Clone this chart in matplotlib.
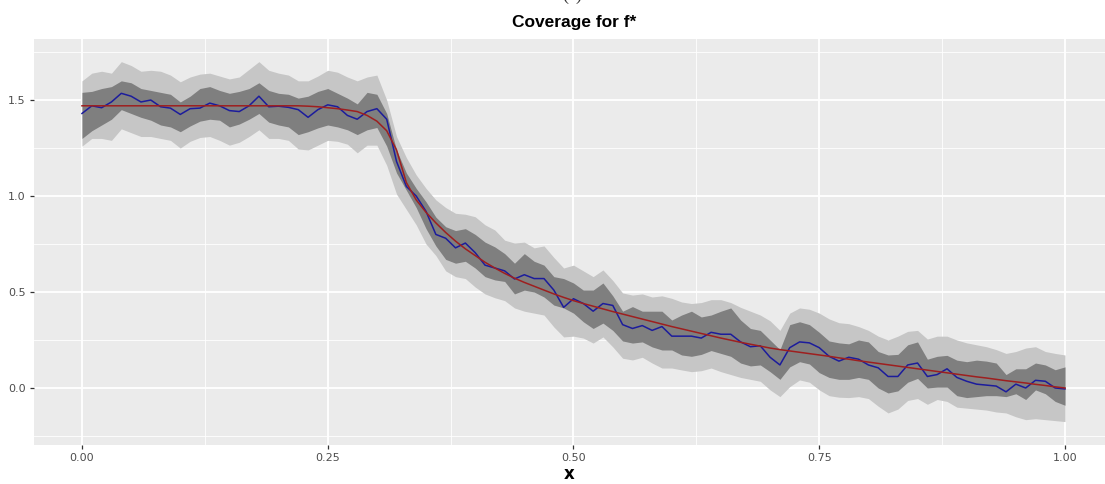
"""
Coverage plot for f*: posterior mean, true function and two credible bands.
"""

import numpy as np
import matplotlib.pyplot as plt

# grid of x values (0.00, 0.01, ..., 1.00)
x_grid = np.linspace(0, 1, 101)

# true function f*
f_true = [
    1.47, 1.47, 1.47, 1.47, 1.47, 1.47, 1.47, 1.47, 1.47, 1.47,
    1.47, 1.47, 1.47, 1.47, 1.47, 1.47, 1.47, 1.47, 1.47, 1.47,
    1.47, 1.47, 1.47, 1.468, 1.465, 1.46, 1.455, 1.448, 1.44, 1.42,
    1.39, 1.34, 1.24, 1.07, 0.98, 0.915, 0.86, 0.81, 0.765, 0.725,
    0.69, 0.655, 0.625, 0.597, 0.572, 0.55, 0.53, 0.51, 0.49, 0.472,
    0.455, 0.44, 0.426, 0.412, 0.398, 0.385, 0.372, 0.359, 0.346, 0.333,
    0.32, 0.308, 0.296, 0.284, 0.272, 0.26, 0.249, 0.238, 0.228, 0.218,
    0.208, 0.2, 0.193, 0.186, 0.179, 0.172, 0.165, 0.157, 0.15, 0.142,
    0.135, 0.128, 0.121, 0.114, 0.107, 0.1, 0.093, 0.086, 0.079, 0.072,
    0.065, 0.058, 0.052, 0.045, 0.038, 0.032, 0.026, 0.019, 0.013, 0.006,
    0.0,
]

# posterior mean
post_mean = [
    1.43, 1.47, 1.46, 1.49, 1.535, 1.52, 1.49, 1.50, 1.465, 1.458,
    1.425, 1.455, 1.458, 1.484, 1.47, 1.445, 1.44, 1.47, 1.52, 1.465,
    1.468, 1.462, 1.45, 1.41, 1.45, 1.475, 1.465, 1.42, 1.40, 1.44,
    1.455, 1.40, 1.18, 1.05, 1.00, 0.92, 0.80, 0.78, 0.73, 0.755,
    0.705, 0.64, 0.625, 0.61, 0.568, 0.59, 0.57, 0.57, 0.51, 0.42,
    0.465, 0.44, 0.40, 0.44, 0.43, 0.33, 0.31, 0.325, 0.30, 0.32,
    0.27, 0.27, 0.27, 0.26, 0.29, 0.28, 0.28, 0.24, 0.215, 0.22,
    0.16, 0.12, 0.21, 0.24, 0.235, 0.21, 0.165, 0.14, 0.16, 0.15,
    0.12, 0.105, 0.06, 0.06, 0.12, 0.13, 0.06, 0.07, 0.10, 0.055,
    0.035, 0.02, 0.015, 0.01, -0.02, 0.02, 0.0, 0.04, 0.035, 0.0,
    -0.005,
]

# outer band
outer_upper = [
    1.60, 1.64, 1.65, 1.64, 1.70, 1.68, 1.65, 1.655, 1.65, 1.63,
    1.595, 1.62, 1.635, 1.64, 1.625, 1.61, 1.62, 1.66, 1.70, 1.655,
    1.64, 1.63, 1.60, 1.60, 1.625, 1.655, 1.645, 1.62, 1.60, 1.62,
    1.63, 1.50, 1.31, 1.20, 1.11, 1.04, 0.98, 0.94, 0.91, 0.905,
    0.892, 0.85, 0.823, 0.77, 0.755, 0.76, 0.73, 0.74, 0.68, 0.625,
    0.64, 0.61, 0.58, 0.615, 0.56, 0.495, 0.484, 0.49, 0.474, 0.48,
    0.467, 0.448, 0.44, 0.445, 0.46, 0.46, 0.445, 0.42, 0.40, 0.38,
    0.35, 0.30, 0.39, 0.417, 0.41, 0.39, 0.36, 0.34, 0.335, 0.32,
    0.30, 0.27, 0.25, 0.27, 0.295, 0.30, 0.255, 0.27, 0.27, 0.25,
    0.235, 0.225, 0.215, 0.20, 0.18, 0.19, 0.208, 0.215, 0.19, 0.18,
    0.172,
]
outer_lower = [
    1.26, 1.30, 1.30, 1.29, 1.35, 1.33, 1.31, 1.31, 1.30, 1.29,
    1.25, 1.285, 1.305, 1.31, 1.29, 1.265, 1.28, 1.31, 1.345, 1.30,
    1.30, 1.29, 1.245, 1.24, 1.265, 1.29, 1.285, 1.27, 1.225, 1.265,
    1.265, 1.16, 1.01, 0.93, 0.85, 0.75, 0.69, 0.61, 0.58, 0.57,
    0.526, 0.49, 0.47, 0.455, 0.417, 0.40, 0.39, 0.38, 0.318, 0.266,
    0.27, 0.26, 0.234, 0.266, 0.214, 0.155, 0.146, 0.16, 0.13, 0.104,
    0.104, 0.094, 0.085, 0.09, 0.104, 0.085, 0.07, 0.055, 0.045, 0.035,
    -0.01, -0.045, 0.007, 0.042, 0.03, -0.01, -0.04, -0.048, -0.05, -0.045,
    -0.055, -0.095, -0.13, -0.11, -0.065, -0.055, -0.085, -0.06, -0.07, -0.10,
    -0.105, -0.11, -0.115, -0.125, -0.13, -0.15, -0.165, -0.16, -0.165, -0.17,
    -0.175,
]

# inner band
inner_upper = [
    1.54, 1.545, 1.56, 1.57, 1.60, 1.59, 1.56, 1.55, 1.54, 1.53,
    1.49, 1.52, 1.56, 1.57, 1.55, 1.535, 1.545, 1.56, 1.59, 1.55,
    1.535, 1.53, 1.51, 1.52, 1.545, 1.56, 1.535, 1.51, 1.48, 1.54,
    1.53, 1.43, 1.24, 1.12, 1.04, 0.97, 0.89, 0.84, 0.82, 0.83,
    0.80, 0.76, 0.735, 0.70, 0.65, 0.70, 0.66, 0.64, 0.58, 0.57,
    0.547, 0.51, 0.51, 0.547, 0.48, 0.40, 0.424, 0.40, 0.40, 0.40,
    0.354, 0.38, 0.40, 0.37, 0.38, 0.40, 0.417, 0.354, 0.31, 0.30,
    0.25, 0.20, 0.33, 0.345, 0.33, 0.29, 0.245, 0.235, 0.23, 0.25,
    0.24, 0.19, 0.172, 0.175, 0.225, 0.24, 0.15, 0.165, 0.17, 0.145,
    0.137, 0.145, 0.14, 0.13, 0.07, 0.10, 0.10, 0.13, 0.12, 0.095,
    0.11,
]
inner_lower = [
    1.30, 1.34, 1.37, 1.40, 1.45, 1.43, 1.41, 1.395, 1.37, 1.36,
    1.335, 1.365, 1.39, 1.40, 1.395, 1.36, 1.375, 1.40, 1.43, 1.385,
    1.37, 1.36, 1.32, 1.335, 1.355, 1.37, 1.36, 1.345, 1.32, 1.345,
    1.357, 1.26, 1.12, 1.03, 0.94, 0.83, 0.74, 0.67, 0.65, 0.66,
    0.625, 0.58, 0.563, 0.555, 0.49, 0.51, 0.50, 0.474, 0.432, 0.417,
    0.39, 0.345, 0.31, 0.338, 0.30, 0.245, 0.234, 0.24, 0.214, 0.198,
    0.198, 0.172, 0.165, 0.175, 0.195, 0.18, 0.165, 0.13, 0.115, 0.12,
    0.085, 0.045, 0.11, 0.137, 0.125, 0.08, 0.055, 0.045, 0.045, 0.055,
    0.045, 0.0, -0.026, -0.015, 0.03, 0.05, 0.0, 0.005, 0.005, -0.04,
    -0.05, -0.045, -0.04, -0.04, -0.045, -0.03, -0.06, -0.01, -0.03, -0.07,
    -0.09,
]

x_ticks = [0.0, 0.25, 0.5, 0.75, 1.0]
x_tick_labels = ['0.00', '0.25', '0.50', '0.75', '1.00']
y_ticks = [0.0, 0.5, 1.0, 1.5]
y_tick_labels = ['0.0', '0.5', '1.0', '1.5']


def plot_coverage():
    W, H = 1105, 484
    fig = plt.figure(figsize=(W / 100, H / 100), dpi=100)
    ax = fig.add_axes([34 / W, 1 - 445 / H, (W - 34) / W, (445 - 39) / H])

    # ggplot2-like grey panel
    ax.set_facecolor('#EBEBEB')
    for s in ax.spines.values():
        s.set_visible(False)
    ax.set_xlim(-0.0488, (W - 82) / 983)
    ax.set_ylim(-0.297, 1.818)

    ax.set_xticks(x_ticks)
    ax.set_xticklabels(x_tick_labels)
    ax.set_yticks(y_ticks)
    ax.set_yticklabels(y_tick_labels)
    ax.set_xticks([0.125, 0.375, 0.625, 0.875], minor=True)
    ax.set_yticks([-0.25, 0.25, 0.75, 1.25, 1.75], minor=True)
    ax.grid(True, which='major', color='white', linewidth=1.3)
    ax.grid(True, which='minor', color='white', linewidth=0.6)
    ax.set_axisbelow(True)
    ax.tick_params(which='major', length=3, width=0.9, color='#333333',
                   labelsize=8, labelcolor='#4D4D4D', pad=3)
    ax.tick_params(which='minor', length=0)

    ax.fill_between(x_grid, outer_lower, outer_upper, color='#C6C6C6',
                    linewidth=0, zorder=2)
    ax.fill_between(x_grid, inner_lower, inner_upper, color='#7F7F7F',
                    linewidth=0, zorder=3)
    ax.plot(x_grid, post_mean, color='#1C1C9C', linewidth=1.1, zorder=4)
    ax.plot(x_grid, f_true, color='#9E1F1F', linewidth=1.1, zorder=5)

    ax.set_xlabel('x', fontsize=12, fontweight='bold', labelpad=1)
    fig.text(574 / W, 1 - 22 / H, 'Coverage for f*', ha='center', va='center',
             fontsize=12.5, fontweight='bold', family='Liberation Sans')
    # panel label, mostly cut off at the top of the figure as in the source
    fig.text(572 / W, 1.0, '(a)', ha='center', va='baseline',
             fontsize=13, family='Liberation Serif', color='#333333')

    plt.savefig('out.png', dpi=100)
    plt.close()


if __name__ == '__main__':
    plot_coverage()
